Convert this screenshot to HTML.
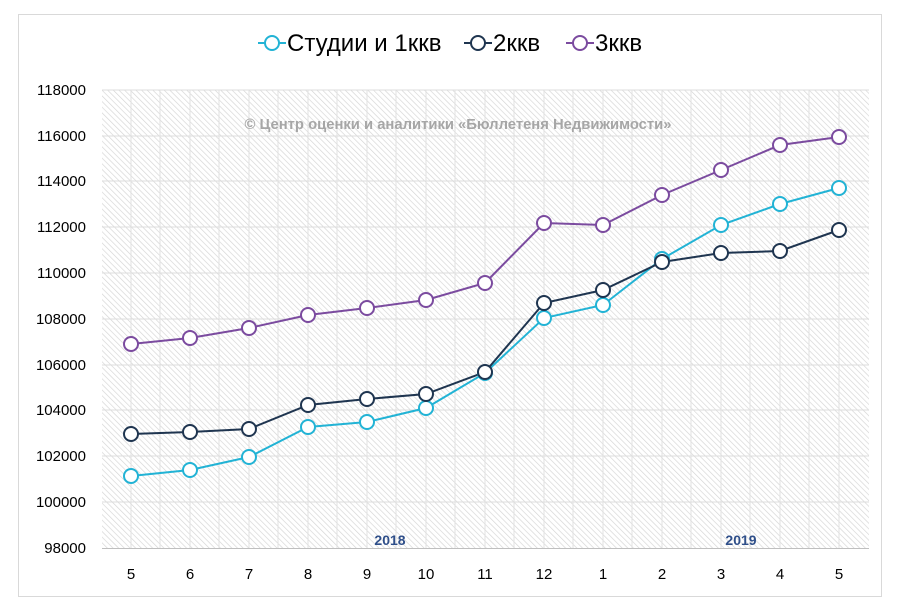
<!DOCTYPE html>
<html><head><meta charset="utf-8"><style>body{margin:0;background:#fff}svg{display:block;font-family:"Liberation Sans","DejaVu Sans",sans-serif}</style></head><body>
<svg width="900" height="611" viewBox="0 0 900 611" xmlns="http://www.w3.org/2000/svg">
<defs><pattern id="h" width="4" height="4" patternUnits="userSpaceOnUse" patternTransform="rotate(-45)"><rect width="4" height="4" fill="#fff"/><line x1="0" y1="0" x2="0" y2="4" stroke="#d4d4d4" stroke-width="1.3"/></pattern></defs>
<rect x="18.5" y="14.5" width="863" height="582" fill="#fff" stroke="#d9d9d9"/>
<rect x="102" y="90" width="767" height="458" fill="url(#h)"/>
<g stroke="#dcdcdc" stroke-width="1">
<line x1="102" y1="90" x2="869" y2="90"/><line x1="102" y1="136" x2="869" y2="136"/><line x1="102" y1="181" x2="869" y2="181"/><line x1="102" y1="227" x2="869" y2="227"/><line x1="102" y1="273" x2="869" y2="273"/><line x1="102" y1="319" x2="869" y2="319"/><line x1="102" y1="365" x2="869" y2="365"/><line x1="102" y1="410" x2="869" y2="410"/><line x1="102" y1="456" x2="869" y2="456"/><line x1="102" y1="502" x2="869" y2="502"/>
</g>
<g stroke="#e2e2e2">
<line x1="131" y1="90" x2="131" y2="548"/><line x1="160" y1="90" x2="160" y2="548"/><line x1="190" y1="90" x2="190" y2="548"/><line x1="219" y1="90" x2="219" y2="548"/><line x1="249" y1="90" x2="249" y2="548"/><line x1="278" y1="90" x2="278" y2="548"/><line x1="308" y1="90" x2="308" y2="548"/><line x1="337" y1="90" x2="337" y2="548"/><line x1="367" y1="90" x2="367" y2="548"/><line x1="396" y1="90" x2="396" y2="548"/><line x1="426" y1="90" x2="426" y2="548"/><line x1="455" y1="90" x2="455" y2="548"/><line x1="485" y1="90" x2="485" y2="548"/><line x1="514" y1="90" x2="514" y2="548"/><line x1="544" y1="90" x2="544" y2="548"/><line x1="573" y1="90" x2="573" y2="548"/><line x1="603" y1="90" x2="603" y2="548"/><line x1="632" y1="90" x2="632" y2="548"/><line x1="662" y1="90" x2="662" y2="548"/><line x1="691" y1="90" x2="691" y2="548"/><line x1="721" y1="90" x2="721" y2="548"/><line x1="750" y1="90" x2="750" y2="548"/><line x1="780" y1="90" x2="780" y2="548"/><line x1="809" y1="90" x2="809" y2="548"/><line x1="839" y1="90" x2="839" y2="548"/>
</g>
<line x1="102" y1="548.5" x2="869" y2="548.5" stroke="#bfbfbf"/>
<g font-size="15" fill="#000" text-anchor="end">
<text x="86" y="95">118000</text><text x="86" y="141">116000</text><text x="86" y="186">114000</text><text x="86" y="232">112000</text><text x="86" y="278">110000</text><text x="86" y="324">108000</text><text x="86" y="370">106000</text><text x="86" y="415">104000</text><text x="86" y="461">102000</text><text x="86" y="507">100000</text><text x="86" y="553">98000</text>
</g>
<g font-size="15" text-anchor="middle">
<text x="131" y="579">5</text><text x="190" y="579">6</text><text x="249" y="579">7</text><text x="308" y="579">8</text><text x="367" y="579">9</text><text x="426" y="579">10</text><text x="485" y="579">11</text><text x="544" y="579">12</text><text x="603" y="579">1</text><text x="662" y="579">2</text><text x="721" y="579">3</text><text x="780" y="579">4</text><text x="839" y="579">5</text>
</g>
<text x="390" y="545" font-size="14" font-weight="bold" fill="#2f4f8a" text-anchor="middle">2018</text>
<text x="741" y="545" font-size="14" font-weight="bold" fill="#2f4f8a" text-anchor="middle">2019</text>
<text x="458" y="129" font-size="14.8" font-weight="bold" fill="#a6a6a6" text-anchor="middle">© Центр оценки и аналитики «Бюллетеня Недвижимости»</text>
<g fill="#fff" stroke-width="2">
<polyline fill="none" stroke="#7b4b9f" points="131,344 190,338 249,328 308,315 367,308 426,300 485,283 544,223 603,225 662,195 721,170 780,145 839,137"/>
<polyline fill="none" stroke="#22b3d5" points="131,476 190,470 249,457 308,427 367,422 426,408 485,373 544,318 603,305 662,259 721,225 780,204 839,188"/>
<polyline fill="none" stroke="#1f3550" points="131,434 190,432 249,429 308,405 367,399 426,394 485,372 544,303 603,290 662,262 721,253 780,251 839,230"/>
<g stroke="#7b4b9f"><circle cx="131" cy="344" r="7"/><circle cx="190" cy="338" r="7"/><circle cx="249" cy="328" r="7"/><circle cx="308" cy="315" r="7"/><circle cx="367" cy="308" r="7"/><circle cx="426" cy="300" r="7"/><circle cx="485" cy="283" r="7"/><circle cx="544" cy="223" r="7"/><circle cx="603" cy="225" r="7"/><circle cx="662" cy="195" r="7"/><circle cx="721" cy="170" r="7"/><circle cx="780" cy="145" r="7"/><circle cx="839" cy="137" r="7"/></g>
<g stroke="#22b3d5"><circle cx="131" cy="476" r="7"/><circle cx="190" cy="470" r="7"/><circle cx="249" cy="457" r="7"/><circle cx="308" cy="427" r="7"/><circle cx="367" cy="422" r="7"/><circle cx="426" cy="408" r="7"/><circle cx="485" cy="373" r="7"/><circle cx="544" cy="318" r="7"/><circle cx="603" cy="305" r="7"/><circle cx="662" cy="259" r="7"/><circle cx="721" cy="225" r="7"/><circle cx="780" cy="204" r="7"/><circle cx="839" cy="188" r="7"/></g>
<g stroke="#1f3550"><circle cx="131" cy="434" r="7"/><circle cx="190" cy="432" r="7"/><circle cx="249" cy="429" r="7"/><circle cx="308" cy="405" r="7"/><circle cx="367" cy="399" r="7"/><circle cx="426" cy="394" r="7"/><circle cx="485" cy="372" r="7"/><circle cx="544" cy="303" r="7"/><circle cx="603" cy="290" r="7"/><circle cx="662" cy="262" r="7"/><circle cx="721" cy="253" r="7"/><circle cx="780" cy="251" r="7"/><circle cx="839" cy="230" r="7"/></g>
</g>
<g font-size="24" fill="#000" stroke-width="2">
<line x1="258" y1="43" x2="286" y2="43" stroke="#22b3d5"/><circle cx="272" cy="43" r="7" fill="#fff" stroke="#22b3d5"/>
<text x="287" y="51">Студии и 1ккв</text>
<line x1="464" y1="43" x2="492" y2="43" stroke="#1f3550"/><circle cx="478" cy="43" r="7" fill="#fff" stroke="#1f3550"/>
<text x="493" y="51">2ккв</text>
<line x1="566" y1="43" x2="594" y2="43" stroke="#7b4b9f"/><circle cx="580" cy="43" r="7" fill="#fff" stroke="#7b4b9f"/>
<text x="595" y="51">3ккв</text>
</g>
</svg>
</body></html>
